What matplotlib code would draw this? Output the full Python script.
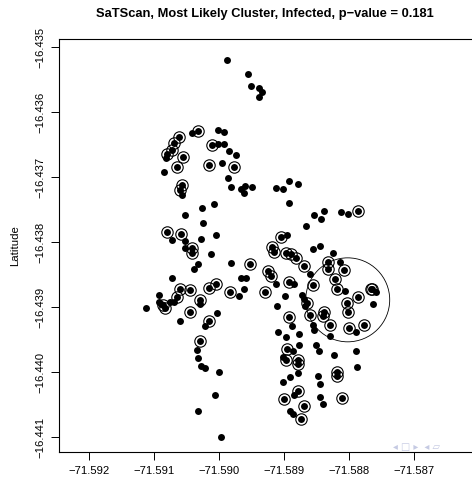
import numpy as np
import matplotlib.pyplot as plt
from matplotlib.patches import Circle

plt.rcParams['font.family'] = ['Liberation Sans', 'DejaVu Sans']

# household locations (longitude, latitude) and infection status
lon = [
    -71.58988, -71.58955, -71.58951, -71.58938, -71.58934, -71.58939,
    -71.59032, -71.59042, -71.59002, -71.58992, -71.59061, -71.59069,
    -71.59011, -71.59002, -71.58992, -71.59073, -71.59080, -71.59082,
    -71.58985, -71.58974, -71.59055, -71.59064, -71.59015, -71.58995,
    -71.58977, -71.59084, -71.58986, -71.59057, -71.59060, -71.59057,
    -71.58981, -71.58966, -71.58960, -71.58950, -71.58961, -71.58912,
    -71.58901, -71.58892, -71.58878, -71.58892, -71.59008, -71.59026,
    -71.59052, -71.59024, -71.59080, -71.59059, -71.59073, -71.59053,
    -71.59005, -71.59027, -71.59042, -71.59041, -71.59052, -71.59012,
    -71.59033, -71.59038, -71.58982, -71.58953, -71.59073, -71.58966,
    -71.58959, -71.59060, -71.59044, -71.59016, -71.59004, -71.58962,
    -71.58983, -71.58970, -71.59064, -71.59069, -71.59030, -71.59030,
    -71.59092, -71.59093, -71.59090, -71.59086, -71.59083, -71.59076,
    -71.59112, -71.59045, -71.59003, -71.59060, -71.59016, -71.59022,
    -71.59029, -71.59034, -71.59032, -71.59028, -71.59022, -71.59000,
    -71.59006, -71.59032, -71.58997,
    -71.58866, -71.58813, -71.58802, -71.58786, -71.58854, -71.58838,
    -71.58843, -71.58904, -71.58895, -71.58918, -71.58916, -71.58855,
    -71.58845, -71.58824, -71.58897, -71.58890, -71.58882, -71.58870,
    -71.58924, -71.58920, -71.58913, -71.58892, -71.58884, -71.58860,
    -71.58855, -71.58929, -71.58898, -71.58872, -71.58870, -71.58865,
    -71.58868, -71.58911, -71.58832, -71.58833, -71.58814, -71.58808,
    -71.58821, -71.58818, -71.58806, -71.58786, -71.58803, -71.58802,
    -71.58766, -71.58764, -71.58758, -71.58763, -71.58860, -71.58839,
    -71.58840, -71.58830, -71.58855, -71.58854, -71.58800, -71.58790,
    -71.58777, -71.58830, -71.58892, -71.58887, -71.58910, -71.58897,
    -71.58877, -71.58895, -71.58886, -71.58877, -71.58851, -71.58846,
    -71.58823, -71.58789, -71.58897, -71.58901, -71.58878, -71.58878,
    -71.58878, -71.58788, -71.58818, -71.58819, -71.58848, -71.58891,
    -71.58902, -71.58844, -71.58878, -71.58885, -71.58844, -71.58900,
    -71.58811, -71.58840, -71.58870, -71.58891, -71.58886, -71.58874,
]
lat = [
    -16.43520, -16.43542, -16.43560, -16.43563, -16.43569, -16.43577,
    -16.43629, -16.43632, -16.43628, -16.43631, -16.43638, -16.43648,
    -16.43651, -16.43649, -16.43649, -16.43658, -16.43665, -16.43671,
    -16.43660, -16.43666, -16.43669, -16.43684, -16.43681, -16.43679,
    -16.43684, -16.43693, -16.43701, -16.43712, -16.43720, -16.43728,
    -16.43716, -16.43719, -16.43714, -16.43715, -16.43725, -16.43717,
    -16.43719, -16.43706, -16.43711, -16.43740, -16.43742, -16.43747,
    -16.43759, -16.43771, -16.43785, -16.43788, -16.43797, -16.43798,
    -16.43789, -16.43795, -16.43809, -16.43817, -16.43809, -16.43819,
    -16.43834, -16.43842, -16.43832, -16.43834, -16.43856, -16.43855,
    -16.43855, -16.43872, -16.43874, -16.43871, -16.43865, -16.43872,
    -16.43877, -16.43883, -16.43884, -16.43892, -16.43890, -16.43895,
    -16.43882, -16.43893, -16.43896, -16.43897, -16.43902, -16.43893,
    -16.43902, -16.43908, -16.43910, -16.43922, -16.43921, -16.43929,
    -16.43953, -16.43966, -16.43978, -16.43991, -16.43994, -16.44000,
    -16.44036, -16.44060, -16.44100,
    -16.43776, -16.43754, -16.43757, -16.43752, -16.43758, -16.43752,
    -16.43765, -16.43792, -16.43790, -16.43807, -16.43815, -16.43811,
    -16.43806, -16.43817, -16.43817, -16.43819, -16.43825, -16.43837,
    -16.43844, -16.43852, -16.43865, -16.43862, -16.43865, -16.43850,
    -16.43866, -16.43877, -16.43883, -16.43882, -16.43887, -16.43894,
    -16.43898, -16.43898, -16.43831, -16.43842, -16.43831, -16.43843,
    -16.43857, -16.43872, -16.43875, -16.43885, -16.43894, -16.43907,
    -16.43872, -16.43873, -16.43877, -16.43896, -16.43912, -16.43907,
    -16.43914, -16.43928, -16.43928, -16.43936, -16.43932, -16.43939,
    -16.43927, -16.43945, -16.43916, -16.43929, -16.43938, -16.43946,
    -16.43942, -16.43964, -16.43968, -16.43958, -16.43958, -16.43968,
    -16.43974, -16.43968, -16.43982, -16.43977, -16.43982, -16.43988,
    -16.44001, -16.43993, -16.44000, -16.44006, -16.44006, -16.44008,
    -16.44015, -16.44019, -16.44029, -16.44036, -16.44038, -16.44042,
    -16.44040, -16.44049, -16.44052, -16.44060, -16.44065, -16.44072,
]
infected = [
    0, 0, 0, 0, 0, 0,
    1, 0, 0, 0, 1, 1,
    1, 0, 0, 1, 1, 0,
    0, 0, 1, 1, 1, 0,
    1, 0, 0, 1, 1, 0,
    0, 0, 0, 0, 0, 0,
    0, 0, 0, 0, 0, 0,
    0, 0, 1, 1, 0, 0,
    0, 0, 1, 1, 0, 0,
    0, 0, 0, 1, 0, 0,
    0, 1, 1, 1, 1, 0,
    1, 0, 1, 0, 1, 0,
    0, 0, 0, 1, 1, 0,
    0, 1, 0, 0, 1, 0,
    1, 0, 0, 0, 0, 0,
    0, 0, 0,
    0, 0, 0, 1, 0, 0,
    0, 1, 0, 1, 1, 0,
    0, 0, 1, 1, 1, 1,
    1, 1, 0, 1, 0, 0,
    1, 1, 0, 0, 0, 1,
    0, 0, 1, 1, 0, 1,
    1, 1, 0, 1, 1, 1,
    1, 1, 0, 0, 1, 1,
    1, 1, 0, 0, 1, 0,
    1, 0, 1, 0, 0, 0,
    0, 1, 0, 0, 0, 0,
    0, 0, 1, 0, 1, 1,
    0, 0, 1, 1, 0, 0,
    0, 0, 1, 0, 0, 1,
    1, 0, 1, 0, 0, 1,
]

# most likely cluster
cluster_lon = -71.58802
cluster_lat = -16.43889
cluster_radius = 0.000646

xticks = [-71.592, -71.591, -71.590, -71.589, -71.588, -71.587]
yticks = [-16.441, -16.440, -16.439, -16.438, -16.437, -16.436, -16.435]

lon = np.array(lon)
lat = np.array(lat)
infected = np.array(infected, dtype=bool)

fig = plt.figure(figsize=(4.72, 4.78), dpi=100)
ax = fig.add_axes([59 / 472, 26 / 478, 415 / 472, 413 / 478])

ax.plot(lon, lat, 'o', color='black', markersize=5.0, markeredgewidth=0, zorder=3)
ax.plot(lon[infected], lat[infected], 'o', markerfacecolor='none',
        markeredgecolor='black', markersize=8.2, markeredgewidth=0.8, zorder=4)
ax.add_patch(Circle((cluster_lon, cluster_lat), cluster_radius, fill=False,
                    edgecolor='black', linewidth=0.6, zorder=2))

ax.set_xlim(-71.592462, -71.586077)
ax.set_ylim(-16.441231, -16.434877)

ax.set_xticks(xticks)
ax.set_xticklabels(['\u2212%.3f' % abs(v) for v in xticks])
ax.set_yticks(yticks)
ax.set_yticklabels(['\u2212%.3f' % abs(v) for v in yticks], rotation=90, va='center')
ax.tick_params(direction='out', length=5.5, width=0.7, labelsize=8.1)
ax.tick_params(axis='x', pad=4.5)
ax.tick_params(axis='y', pad=4)
for s in ax.spines.values():
    s.set_linewidth(0.8)

ax.set_ylabel('Latitude', fontsize=8.2, labelpad=11)

fig.text(265 / 472, 1 - 14 / 478, 'SaTScan, Most Likely Cluster, Infected, p\u2212value = 0.181',
         ha='center', va='center', fontsize=9.3, fontweight='bold')

# slide navigation glyphs
fig.text(393 / 472, 1 - 447 / 478, '\u25c2 \u25a1 \u25b8  \u25c2 \u25b1', color='#c5cae3',
         fontsize=7, ha='left', va='center', family=['DejaVu Sans'])

fig.savefig('out.png', dpi=100)
